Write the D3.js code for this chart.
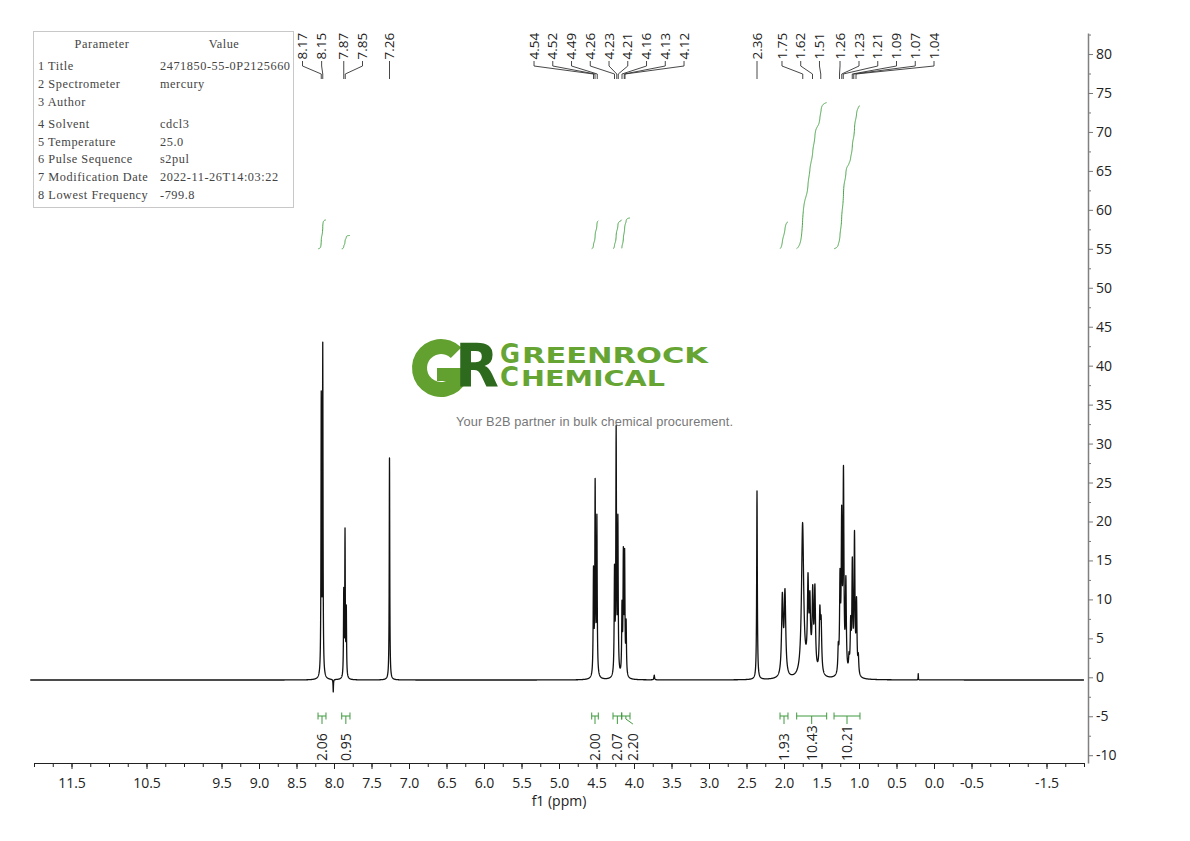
<!DOCTYPE html>
<html><head><meta charset="utf-8">
<script src="https://cdn.jsdelivr.net/npm/d3@7"></script>
<style>body{margin:0;background:#fff}svg{display:block}</style>
</head><body>
<script>
// ---------------- DATA ----------------
// resolved lines of the 1H spectrum: [ppm, height, half-width (ppm)]
const aromaticLines = [
  [8.170, 35.5, 0.004], [8.150, 42.0, 0.004], [8.010, -1.6, 0.003],
  [7.870, 10.8, 0.004], [7.853, 18.5, 0.004], [7.836, 8.5, 0.004],
  [7.260, 28.5, 0.004]
];
const oxyLines = [
  [4.540, 13.2, 0.005], [4.518, 24.3, 0.005], [4.495, 20.0, 0.005],
  [4.260, 13.0, 0.005], [4.238, 31.0, 0.005], [4.215, 19.5, 0.005],
  [4.160, 8.5, 0.005], [4.142, 15.0, 0.005], [4.125, 15.0, 0.005], [4.105, 6.5, 0.005],
  [3.730, 0.6, 0.005]
];
const aliphaticLines = [
  [2.360, 24.2, 0.005],
  [2.022, 10.0, 0.012], [1.987, 10.5, 0.012],
  [1.640, 1.5, 0.060],
  [1.752, 19.5, 0.017], [1.680, 10.5, 0.009], [1.655, 7.5, 0.009], [1.617, 9.0, 0.009],
  [1.588, 10.0, 0.009], [1.522, 7.5, 0.009], [1.505, 6.0, 0.009],
  [1.276, 3.0, 0.007], [1.253, 11.5, 0.007], [1.231, 19.0, 0.007], [1.207, 25.0, 0.007],
  [1.175, 11.5, 0.007], [1.133, 1.8, 0.007], [1.111, 6.0, 0.007], [1.089, 13.8, 0.007],
  [1.060, 17.5, 0.007], [1.033, 9.0, 0.007], [1.009, 2.2, 0.007],
  [0.210, 0.8, 0.002]
];
const baselineLevel = -0.35;

// peak picking labels (ppm) and the ppm slot where each label text sits
const peakLabels     = [8.17, 8.15, 7.87, 7.85, 7.26,
                        4.54, 4.52, 4.49, 4.26, 4.23, 4.21, 4.16, 4.13, 4.12,
                        2.36, 1.75, 1.62, 1.51, 1.26, 1.23, 1.21, 1.09, 1.07, 1.04];
const peakLabelSlots = [8.42, 8.165, 7.87, 7.62, 7.26,
                        5.333, 5.083, 4.833, 4.583, 4.333, 4.083, 3.833, 3.583, 3.333,
                        2.36, 2.027, 1.777, 1.527, 1.253, 1.0, 0.75, 0.5, 0.25, 0.0];

// integrals: region (ppm from -> to) and value
const integralFrom  = [8.213, 7.897, 4.564, 4.280, 4.164, 2.053, 1.831, 1.333];
const integralTo    = [8.107, 7.787, 4.476, 4.164, 4.053, 1.947, 1.431, 0.987];
const integralValue = [2.06, 0.95, 2.00, 2.07, 2.20, 1.93, 10.43, 10.21];

// axes
const xTickLabels = [11.5, 10.5, 9.5, 9.0, 8.5, 8.0, 7.5, 7.0, 6.5, 6.0, 5.5, 5.0, 4.5, 4.0,
                     3.5, 3.0, 2.5, 2.0, 1.5, 1.0, 0.5, 0.0, -0.5, -1.5];
const yTickLabels = [-10, -5, 0, 5, 10, 15, 20, 25, 30, 35, 40, 45, 50, 55, 60, 65, 70, 75, 80];

// parameter table
const paramNames  = ["1 Title", "2 Spectrometer", "3 Author", "4 Solvent", "5 Temperature",
                     "6 Pulse Sequence", "7 Modification Date", "8 Lowest Frequency"];
const paramValues = ["2471850-55-0P2125660", "mercury", "", "cdcl3", "25.0",
                     "s2pul", "2022-11-26T14:03:22", "-799.8"];

// ---------------- LAYOUT ----------------
const W = 1190, H = 841;
const svg = d3.select("body").append("svg").attr("width", W).attr("height", H)
  .style("font-family", "'Open Sans', sans-serif");
const x = d3.scaleLinear().domain([12, -2]).range([34, 1084]);
const y = d3.scaleLinear().domain([-11, 82.7]).range([763, 33]);
const txt = "#222";

// ---------------- WATERMARK ----------------
const wm = svg.append("g");
wm.append("path")
  .attr("transform", "translate(441,368)")
  .attr("d", d3.arc().innerRadius(14).outerRadius(29).startAngle(Math.PI / 2).endAngle(2 * Math.PI + 0.78)())
  .attr("fill", "#62a02f");
wm.append("rect").attr("x", 437).attr("y", 368).attr("width", 22).attr("height", 13).attr("fill", "#62a02f");
const brand = wm.append("text").attr("font-family", "DejaVu Sans").attr("font-weight", 700)
  .attr("fill", "#66a534").attr("lengthAdjust", "spacingAndGlyphs");
const brandPart = (t, xx, yy, fs, len) => brand.append("tspan").attr("x", xx).attr("y", yy)
  .attr("font-size", fs).attr("textLength", len).attr("lengthAdjust", "spacingAndGlyphs").text(t);
brandPart("R", 455, 387, 60, 44).attr("fill", "#2e6a1d");
brandPart("G", 500, 363, 27, 20);
brandPart("REENROCK", 522, 363, 22, 186);
brandPart("C", 500, 386, 27, 19);
brandPart("HEMICAL", 521, 386, 21, 144);
wm.append("text").attr("x", 456).attr("y", 426).attr("font-family", "'Liberation Sans', Arial")
  .attr("font-size", 12.8).attr("textLength", 277).attr("fill", "#777")
  .text("Your B2B partner in bulk chemical procurement.");

// ---------------- PARAMETER TABLE ----------------
const tbl = svg.append("g").attr("font-family", "'Liberation Serif', serif").attr("font-size", 12.3)
  .attr("fill", "#444").attr("letter-spacing", 0.55);
tbl.append("rect").attr("x", 33.5).attr("y", 31.5).attr("width", 260).attr("height", 176)
  .attr("fill", "#fff").attr("stroke", "#c8c8c8");
tbl.append("text").attr("x", 102).attr("y", 48).attr("text-anchor", "middle").text("Parameter");
tbl.append("text").attr("x", 224).attr("y", 48).attr("text-anchor", "middle").text("Value");
const rowY = [69.5, 88, 105.5, 128, 145.5, 163, 180.5, 198.5];
paramNames.forEach((n, i) => {
  tbl.append("text").attr("x", 38).attr("y", rowY[i]).text(n);
  tbl.append("text").attr("x", 160).attr("y", rowY[i]).text(paramValues[i]);
});

// ---------------- SPECTRUM ----------------
const lines = aromaticLines.concat(oxyLines, aliphaticLines);
const grid = d3.range(12.05, -2.0, -0.0015).concat(lines.map(l => l[0]));
grid.sort((a, b) => b - a);
const spec = grid.map(v => [v, baselineLevel + d3.sum(lines, l => l[1] / (1 + ((v - l[0]) / l[2]) ** 2))]);
svg.append("path").datum(spec)
  .attr("d", d3.line().x(d => x(d[0])).y(d => y(d[1])))
  .attr("fill", "none").attr("stroke", "#111").attr("stroke-width", 1.3).attr("stroke-linejoin", "round");

// ---------------- INTEGRALS ----------------
const intColor = "#46a446";
const perUnit = 1.8, intBase = 55;
integralValue.forEach((val, i) => {
  const pts = spec.filter(d => d[0] <= integralFrom[i] && d[0] >= integralTo[i]);
  let acc = 0;
  const cum = pts.map(d => { acc += Math.max(0, d[1] - baselineLevel); return [d[0], acc]; });
  const tot = acc || 1;
  svg.append("path").datum(cum)
    .attr("d", d3.line().x(d => x(d[0])).y(d => y(intBase + d[1] / tot * val * perUnit)))
    .attr("fill", "none").attr("stroke", intColor).attr("stroke-width", 1);
});
// integral brackets + values
const integralLabelShift = [0, 0, 0, 0, 7, 0, 0, 0];
const brY = 716;
integralValue.forEach((val, i) => {
  const x1 = x(integralFrom[i]), x2 = x(integralTo[i]), cx = (x1 + x2) / 2, lx = cx + integralLabelShift[i];
  const g = svg.append("g").attr("stroke", "#3f9a3f").attr("stroke-width", 1).attr("fill", "none");
  g.append("line").attr("x1", x1).attr("x2", x2).attr("y1", brY).attr("y2", brY);
  g.append("line").attr("x1", x1).attr("x2", x1).attr("y1", brY - 3.5).attr("y2", brY + 3.5);
  g.append("line").attr("x1", x2).attr("x2", x2).attr("y1", brY - 3.5).attr("y2", brY + 3.5);
  g.append("path").attr("d", `M${cx},${brY}L${cx},${brY + 3}L${lx},${brY + 8}`);
  svg.append("text").attr("transform", `translate(${lx + 5},761) rotate(-90)`)
    .attr("font-size", 14).attr("fill", txt).text(val.toFixed(2));
});

// ---------------- PEAK LABELS ----------------
peakLabels.forEach((p, i) => {
  const lx = x(peakLabelSlots[i]), px = x(p);
  svg.append("path").attr("d", `M${lx},61V66L${px},74V79`)
    .attr("fill", "none").attr("stroke", "#333").attr("stroke-width", 0.9);
  svg.append("text").attr("transform", `translate(${lx + 4.6},59.5) rotate(-90)`)
    .attr("font-size", 13.5).attr("fill", txt).text(p.toFixed(2));
});

// ---------------- AXES ----------------
const xMinor = d3.range(0, 57).map(i => 12 - i * 0.25);
const gxMinor = svg.append("g").attr("transform", "translate(0,763)")
  .call(d3.axisBottom(x).tickValues(xMinor).tickSize(4).tickSizeOuter(0).tickFormat(""));
gxMinor.select(".domain").remove();
const gx = svg.append("g").attr("transform", "translate(0,763)")
  .call(d3.axisBottom(x).tickValues(xTickLabels).tickSize(6).tickPadding(9).tickSizeOuter(0)
    .tickFormat(d => d.toFixed(1)));
gx.selectAll("text").attr("font-size", 14).attr("fill", txt).attr("font-family", "'Open Sans', sans-serif");
gx.select(".domain").attr("stroke", "#222");
gx.selectAll(".tick line").attr("stroke", "#222");
gxMinor.selectAll(".tick line").attr("stroke", "#222");
svg.append("text").attr("x", x(5.0)).attr("y", 806).attr("text-anchor", "middle")
  .attr("font-size", 14).attr("fill", txt).text("f1 (ppm)");

const yMinor = d3.range(-7.5, 83, 5);
const gyMinor = svg.append("g").attr("transform", "translate(1088,0)")
  .call(d3.axisRight(y).tickValues(yMinor).tickSize(3).tickSizeOuter(0).tickFormat(""));
gyMinor.select(".domain").remove();
gyMinor.selectAll(".tick line").attr("stroke", "#777");
const gy = svg.append("g").attr("transform", "translate(1088,0)")
  .call(d3.axisRight(y).tickValues(yTickLabels).tickSize(5).tickPadding(3).tickSizeOuter(0)
    .tickFormat(d => String(d)));
gy.select(".domain").attr("stroke", "#808080").attr("stroke-width", 1.5);
gy.selectAll(".tick line").attr("stroke", "#777");
gy.selectAll("text").attr("font-size", 14).attr("fill", txt).attr("font-family", "'Open Sans', sans-serif");
</script>
</body></html>
